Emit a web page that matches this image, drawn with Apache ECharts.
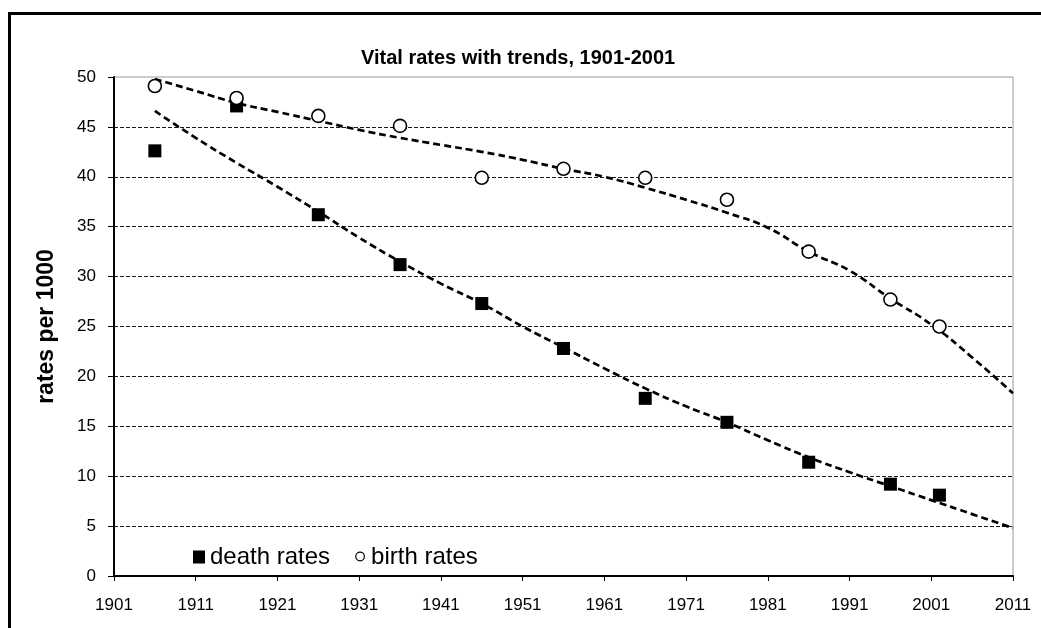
<!DOCTYPE html>
<html>
<head>
<meta charset="utf-8">
<script src="https://cdn.jsdelivr.net/npm/echarts@6/dist/echarts.min.js"></script>
<style>
  html, body { margin: 0; padding: 0; background: #fff; width: 1041px; height: 628px; overflow: hidden; }
  #frame { position: absolute; left: 8px; top: 12px; width: 1100px; height: 700px; border: 3px solid #000; box-sizing: border-box; }
  #chart { position: absolute; left: 0; top: 0; width: 1041px; height: 628px; }
</style>
</head>
<body>
<div id="frame"></div>
<div id="chart"></div>
<script>
// ---- data ----
const BASE_YEAR = 1901;
const tickYears = [1901, 1911, 1921, 1931, 1941, 1951, 1961, 1971, 1981, 1991, 2001, 2011];
const obsYears = [1906, 1916, 1926, 1936, 1946, 1956, 1966, 1976, 1986, 1996, 2002];
const deathRates = [42.6, 47.1, 36.2, 31.2, 27.3, 22.8, 17.8, 15.4, 11.4, 9.2, 8.1];
const birthRates = [49.1, 47.9, 46.1, 45.1, 39.9, 40.8, 39.9, 37.7, 32.5, 27.7, 25.0];
const trendYears = [1906, 1911, 1916, 1921, 1926, 1931, 1936, 1941, 1946, 1951, 1956,
                    1961, 1966, 1971, 1976, 1981, 1986, 1991, 1996, 2001, 2006, 2011];
const deathTrend = [46.6, 43.9, 41.4, 39.0, 36.5, 33.9, 31.5, 29.3, 27.3, 25.0, 22.9,
                    20.8, 18.8, 17.0, 15.4, 13.6, 11.9, 10.4, 9.0, 7.6, 6.2, 4.8];
const birthTrend = [49.8, 48.6, 47.4, 46.5, 45.6, 44.7, 43.9, 43.2, 42.5, 41.7, 40.8,
                    40.0, 38.9, 37.7, 36.4, 34.9, 32.5, 30.6, 27.8, 25.2, 21.9, 18.3];
const titleText = 'Vital rates with trends, 1901-2001';
const yAxisName = 'rates per 1000';
const seriesNames = ['death rates', 'birth rates'];

const pairs = (xs, ys) => xs.map((x, i) => [x - BASE_YEAR, ys[i]]);
const FONT = 'Arial, "Liberation Sans", sans-serif';
const circleIcon = 'image://data:image/svg+xml;utf8,' + encodeURIComponent(
  '<svg xmlns="http://www.w3.org/2000/svg" width="12" height="13" viewBox="0 0 12 13">' +
  '<circle cx="6" cy="6" r="4.3" fill="#fff" stroke="#000" stroke-width="1.2"/></svg>');

const chart = echarts.init(document.getElementById('chart'), null, { renderer: 'canvas' });
chart.setOption({
  backgroundColor: 'transparent',
  animation: false,
  title: {
    text: titleText,
    left: 356, top: 43,
    textStyle: { fontFamily: FONT, fontSize: 20, fontWeight: 'bold', color: '#000' }
  },
  legend: {
    left: 188, top: 540,
    itemWidth: 12, itemHeight: 13, itemGap: 24,
    textStyle: { fontFamily: FONT, fontSize: 24, color: '#000' },
    data: [
      { name: seriesNames[0], icon: 'rect', itemStyle: { color: '#000', opacity: 1 } },
      { name: seriesNames[1], icon: circleIcon }
    ]
  },
  grid: {
    left: 114, right: 28, top: 77, bottom: 52,
    show: true, borderColor: '#9a9a9a', borderWidth: 1
  },
  xAxis: {
    type: 'value', min: 0, max: 110, interval: 10,
    axisLine: { show: true, onZero: false, lineStyle: { color: '#000', width: 2 } },
    axisTick: { show: true, length: 5, lineStyle: { color: '#000', width: 1 } },
    axisLabel: { margin: 21, fontFamily: FONT, fontSize: 17, color: '#000',
                 formatter: v => String(v + BASE_YEAR) },
    splitLine: { show: false }
  },
  yAxis: {
    type: 'value', min: 0, max: 50, interval: 5,
    name: yAxisName, nameLocation: 'middle', nameRotate: 90, nameGap: 56,
    nameTextStyle: { fontFamily: FONT, fontSize: 23, fontWeight: 'bold', color: '#000' },
    axisLine: { show: true, lineStyle: { color: '#000', width: 2 } },
    axisTick: { show: true, length: 6, lineStyle: { color: '#000', width: 1 } },
    axisLabel: { margin: 18, fontFamily: FONT, fontSize: 17, color: '#000' },
    splitLine: { show: true, showMaxLine: false, showMinLine: false,
                 lineStyle: { color: '#1a1a1a', width: 1, type: [4, 2] } }
  },
  series: [
    {
      name: 'death trend', type: 'line', data: pairs(trendYears, deathTrend),
      smooth: true, symbol: 'none', silent: true,
      lineStyle: { color: '#000', width: 2.7, type: [7, 4] }, z: 2
    },
    {
      name: 'birth trend', type: 'line', data: pairs(trendYears, birthTrend),
      smooth: true, symbol: 'none', silent: true,
      lineStyle: { color: '#000', width: 2.7, type: [7, 4] }, z: 2
    },
    {
      name: seriesNames[0], type: 'scatter', data: pairs(obsYears, deathRates),
      symbol: 'rect', symbolSize: 13,
      itemStyle: { color: '#000', opacity: 1 }, z: 3
    },
    {
      name: seriesNames[1], type: 'scatter', data: pairs(obsYears, birthRates),
      symbol: 'circle', symbolSize: 13,
      itemStyle: { color: '#fff', borderColor: '#000', borderWidth: 1.6, opacity: 1 }, z: 3
    }
  ]
});
</script>
</body>
</html>
